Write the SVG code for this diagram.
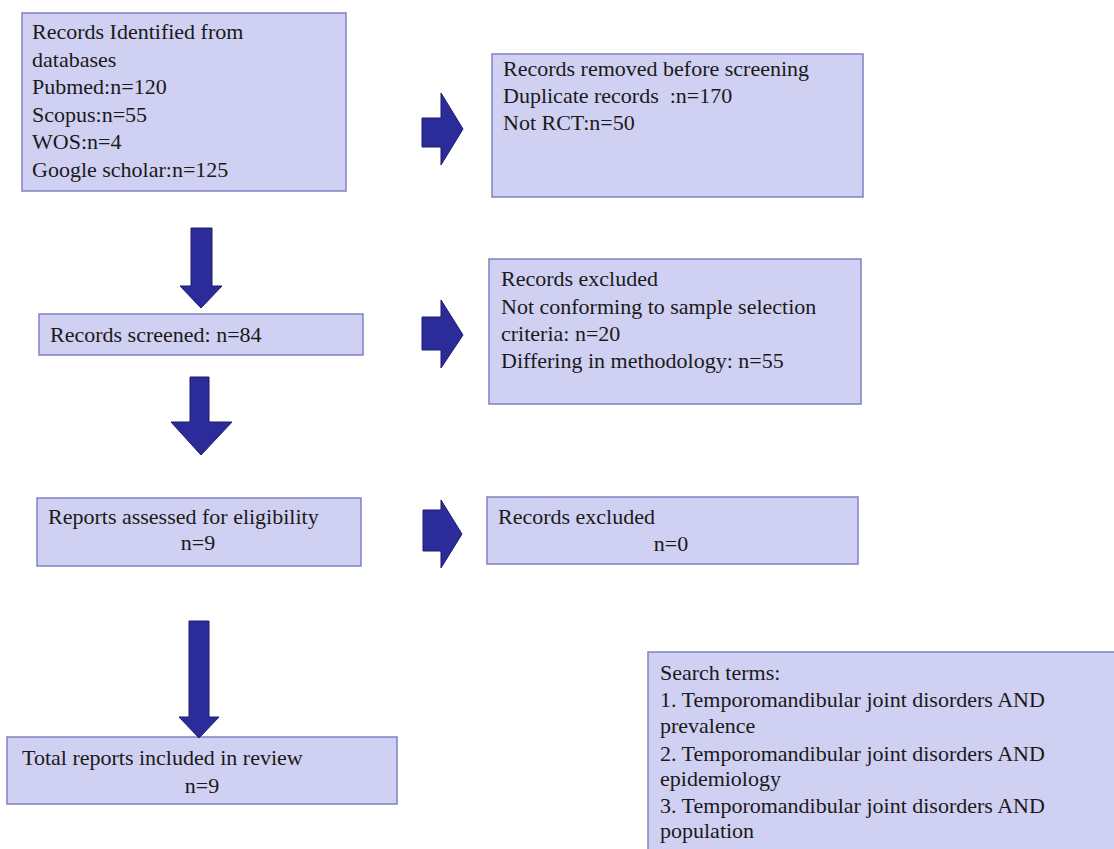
<svg xmlns="http://www.w3.org/2000/svg" width="1114" height="849" viewBox="0 0 1114 849">
<style>
.box{fill:#d0d0f2;stroke:#8181c3;stroke-width:1.5}
.arr{fill:#2b2b9a;stroke:#1c1c6a;stroke-width:1}
text{font-family:"Liberation Serif","Times New Roman",serif;font-size:22px;fill:#1a1a1a}
.c{text-anchor:middle}
</style>
<rect width="1114" height="849" fill="#ffffff"/>
<g id="identified">
<rect class="box" x="22" y="13" width="324" height="178"/>
<text x="32" y="39">Records Identified from</text>
<text x="32" y="67">databases</text>
<text x="32" y="94">Pubmed:n=120</text>
<text x="32" y="122">Scopus:n=55</text>
<text x="32" y="149">WOS:n=4</text>
<text x="32" y="177">Google scholar:n=125</text>
</g>
<g id="removed">
<rect class="box" x="492" y="54" width="371" height="143"/>
<text x="503" y="76">Records removed before screening</text>
<text x="503" y="103">Duplicate records&#160; :n=170</text>
<text x="503" y="130">Not RCT:n=50</text>
</g>
<g id="screened">
<rect class="box" x="39" y="314" width="324" height="41"/>
<text x="50" y="342">Records screened: n=84</text>
</g>
<g id="excluded1">
<rect class="box" x="489" y="259" width="372" height="145"/>
<text x="501" y="286">Records excluded</text>
<text x="501" y="314">Not conforming to sample selection</text>
<text x="501" y="341">criteria: n=20</text>
<text x="501" y="368">Differing in methodology: n=55</text>
</g>
<g id="assessed">
<rect class="box" x="37" y="498" width="324" height="68"/>
<text x="48" y="524">Reports assessed for eligibility</text>
<text class="c" x="198" y="550">n=9</text>
</g>
<g id="excluded2">
<rect class="box" x="487" y="497" width="371" height="67"/>
<text x="498" y="524">Records excluded</text>
<text class="c" x="671" y="551">n=0</text>
</g>
<g id="included">
<rect class="box" x="7" y="737" width="390" height="67"/>
<text x="22" y="765">Total reports included in review</text>
<text class="c" x="202" y="793">n=9</text>
</g>
<g id="searchterms">
<rect class="box" x="648" y="652" width="480" height="210"/>
<text x="660" y="680">Search terms:</text>
<text x="660" y="707">1. Temporomandibular joint disorders AND</text>
<text x="660" y="733">prevalence</text>
<text x="660" y="761">2. Temporomandibular joint disorders AND</text>
<text x="660" y="786">epidemiology</text>
<text x="660" y="813">3. Temporomandibular joint disorders AND</text>
<text x="660" y="838">population</text>
</g>
<g id="connectors">
<polygon class="arr" points="422,118 441,118 441,93 463,129 441,165 441,147 422,147"/>
<polygon class="arr" points="422,317 441,317 441,300 463,335 441,368 441,350 422,350"/>
<polygon class="arr" points="423,510 441,510 441,500 462,534 441,568 441,551 423,551"/>
<polygon class="arr" points="191,228 212,228 212,286 222,286 201,308 180,286 191,286"/>
<polygon class="arr" points="190,377 209,377 209,422 232,422 201,455 171,422 190,422"/>
<polygon class="arr" points="189,621 209,621 209,717 219,717 199,738 179,717 189,717"/>
</g>
</svg>
